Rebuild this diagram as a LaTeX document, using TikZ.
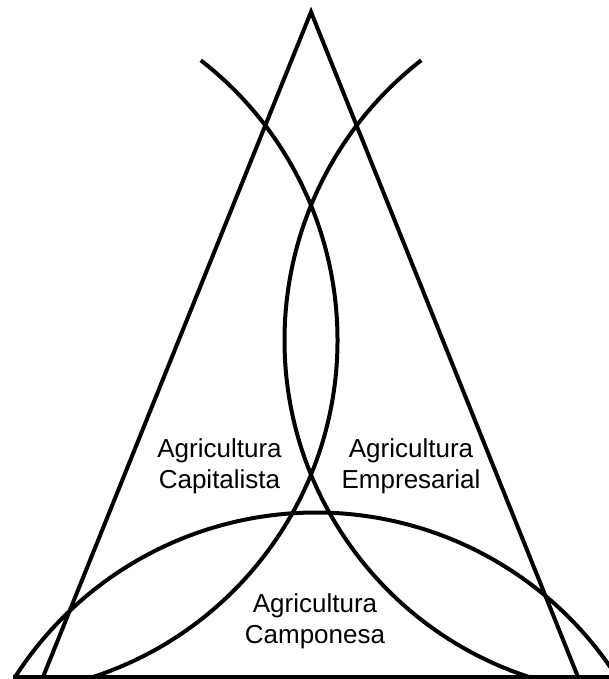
\documentclass[tikz,border=0pt]{standalone}
\usepackage{fontspec}
\setmainfont{Liberation Sans}
\begin{document}
\begin{tikzpicture}[x=1pt,y=1pt,
  stroke/.style={line width=4pt, line join=miter, black},
  lbl/.style={align=center, inner sep=0pt, text=black, font=\fontsize{26}{31}\selectfont}]
\useasboundingbox (0,0) rectangle (609,679);
\clip (0,0) rectangle (609,679);
% triangle
\coordinate (apex) at (311,667);
\coordinate (bl) at (43,2);
\coordinate (br) at (578,2);
\coordinate (baseL) at (13,2);
\coordinate (baseR) at (615,2);
\draw[stroke] (baseL) -- (baseR);
\draw[stroke] (bl) -- (apex) -- (br);
% left arc (Capitalista)
\coordinate (cL) at (-17,339);
\draw[stroke] ([shift={(52.1:354.5)}]cL) arc[start angle=52.1, end angle=-71.9, radius=354.5];
% right arc (Empresarial)
\coordinate (cR) at (639,339);
\draw[stroke] ([shift={(127.9:354.5)}]cR) arc[start angle=127.9, end angle=251.9, radius=354.5];
% bottom arc (Camponesa)
\coordinate (cB) at (316,-191);
\draw[stroke] ([shift={(147.3:357.5)}]cB) arc[start angle=147.3, end angle=32.7, radius=357.5];
% labels
\node[lbl] (cap) at (219.5,212.5) {Agricultura\\Capitalista};
\node[lbl] (emp) at (411,212.5) {Agricultura\\Empresarial};
\node[lbl] (camp) at (315,57.5) {Agricultura\\Camponesa};
\end{tikzpicture}
\end{document}
